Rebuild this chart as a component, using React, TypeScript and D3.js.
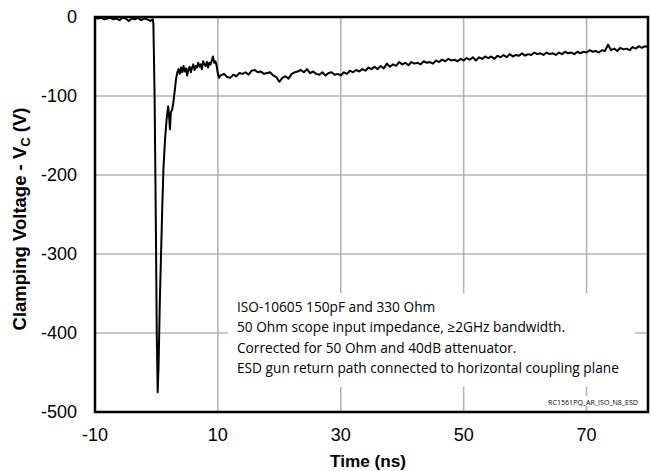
import React from "react";
import * as d3 from "d3";

const xTicks = [-10, 10, 30, 50, 70];
const xGrid = [10, 30, 50, 70];
const yTicks = [0, -100, -200, -300, -400, -500];
const yGrid = [-100, -200, -300, -400];

const noteLines = [
  "ISO-10605 150pF and 330 Ohm",
  "50 Ohm scope input impedance, \u22652GHz bandwidth.",
  "Corrected for 50 Ohm and 40dB attenuator.",
  "ESD gun return path connected to horizontal coupling plane",
];
const codeLabel = "RC1561PQ_AR_ISO_N8_ESD";

// Time (ns)
const timeNs = [
  -10, -9.5, -9, -8.5, -8, -7.5, -7, -6.5, -6, -5.5, -5, -4.5, -4, -3.5, -3, -2.5, -2, -1.5, -1, -0.6,
  -0.5, -0.3, -0.1, 0.05, 0.2, 0.35, 0.55, 0.75, 0.95, 1.15, 1.4, 1.65, 1.9, 2.05, 2.2, 2.35, 2.55, 2.75, 3.0, 3.2, 3.4,
  3.6, 3.8, 4.0, 4.2, 4.4, 4.6, 4.8, 5.0, 5.2, 5.4, 5.6, 5.8, 6.0, 6.2, 6.4, 6.6, 6.8, 7.0, 7.2, 7.4, 7.6, 7.8, 8.0,
  8.2, 8.4, 8.6, 8.8, 9.0, 9.2, 9.4, 9.6, 9.8, 10.0, 10.2, 10.4,
  10.5, 11, 11.5, 12, 12.5, 13, 13.5, 14, 14.5, 15, 15.5, 16, 16.5, 17, 17.5, 18, 18.5, 19, 19.5, 20,
  20.5, 21, 21.5, 22, 22.5, 23, 23.5, 24, 24.5, 25, 25.5, 26, 26.5, 27, 27.5, 28, 28.5, 29, 29.5, 30,
  30.5, 31, 31.5, 32, 32.5, 33, 33.5, 34, 34.5, 35, 35.5, 36, 36.5, 37, 37.5, 38, 38.5, 39, 39.5, 40,
  40.5, 41, 41.5, 42, 42.5, 43, 43.5, 44, 44.5, 45, 45.5, 46, 46.5, 47, 47.5, 48, 48.5, 49, 49.5, 50,
  50.5, 51, 51.5, 52, 52.5, 53, 53.5, 54, 54.5, 55, 55.5, 56, 56.5, 57, 57.5, 58, 58.5, 59, 59.5, 60,
  60.5, 61, 61.5, 62, 62.5, 63, 63.5, 64, 64.5, 65, 65.5, 66, 66.5, 67, 67.5, 68, 68.5, 69, 69.5, 70,
  70.5, 71, 71.5, 72, 72.5, 73, 73.5, 74, 74.5, 75, 75.5, 76, 76.5, 77, 77.5, 78, 78.5, 79, 79.5, 80,
];

// Clamping voltage (V)
const voltage = [
  -1, -2, -1, -3, -2, -1, -3, -2, -4, -1, -2, -5, -2, -3, -1, -4, -2, -3, -5, -3,
  -8, -100, -260, -400, -475, -440, -360, -300, -240, -190, -155, -130, -113, -125, -142, -120, -118, -108, -92, -78, -70,
  -66, -72, -64, -70, -62, -69, -65, -74, -66, -63, -70, -64, -60, -67, -62, -64, -58, -63, -60, -66, -56, -60, -62,
  -57, -64, -58, -60, -55, -50, -58, -56, -62, -72, -77, -74,
  -74, -72, -76, -77, -73, -75, -71, -72, -70, -73, -68, -67, -70, -69, -72, -71, -70, -74, -76, -82,
  -77, -75, -78, -72, -70, -69, -67, -70, -66, -71, -69, -72, -73, -70, -74, -71, -70, -73, -72, -74,
  -70, -72, -68, -70, -67, -69, -66, -68, -64, -66, -63, -66, -62, -65, -59, -63, -60, -62, -57, -60,
  -58, -61, -57, -59, -58, -60, -56, -58, -57, -59, -55, -57, -54, -56, -53, -55, -54, -56, -53, -55,
  -52, -54, -51, -55, -51, -53, -50, -52, -50, -53, -49, -51, -48, -51, -47, -50, -48, -49, -46, -49,
  -47, -48, -45, -47, -46, -48, -45, -47, -46, -48, -45, -47, -44, -46, -45, -47, -44, -46, -44, -45,
  -42, -44, -43, -45, -42, -43, -35, -42, -40, -43, -39, -41, -40, -42, -38, -40, -37, -39, -37, -38,
];

const W = 652;
const H = 471;
const left = 95;
const right = 648;
const top = 17;
const bottom = 412;

export default function App() {
  const x = d3.scaleLinear().domain([-10, 80]).range([left, right]);
  const y = d3.scaleLinear().domain([-500, 0]).range([bottom, top]);
  const pts: [number, number][] = timeNs.map((t, i) => [t, voltage[i]]);
  const line = d3
    .line<[number, number]>()
    .x((d) => x(d[0]))
    .y((d) => y(d[1]));

  const font = "'Liberation Sans', Arial, sans-serif";
  const noteFont = "'Open Sans', sans-serif";

  return (
    <svg
      width={W}
      height={H}
      viewBox={`0 0 ${W} ${H}`}
      style={{ position: "absolute", left: 0, top: 0, background: "#fff" }}
    >
      <rect x={0} y={0} width={W} height={H} fill="#fff" />
      {/* grid */}
      {xGrid.map((v) => (
        <line key={"gx" + v} x1={x(v)} x2={x(v)} y1={top} y2={bottom} stroke="#b3b3b3" strokeWidth={1.6} />
      ))}
      {yGrid.map((v) => (
        <line key={"gy" + v} x1={left} x2={right} y1={y(v)} y2={y(v)} stroke="#b3b3b3" strokeWidth={1.6} />
      ))}
      {/* annotation box */}
      <rect x={228} y={293} width={407} height={94} fill="#fff" />
      <rect x={544} y={396} width={96} height={10} fill="#fff" />
      {/* border */}
      <rect x={left} y={top} width={right - left} height={bottom - top} fill="none" stroke="#000" strokeWidth={2.5} />
      {/* data */}
      <path d={line(pts) || ""} fill="none" stroke="#000" strokeWidth={2} strokeLinejoin="round" />
      {/* notes */}
      {noteLines.map((s, i) => (
        <text key={"n" + i} x={237} y={312 + i * 20.4} fontFamily={noteFont} fontSize={13.7} fill="#000">
          {s}
        </text>
      ))}
      <text x={638} y={405} textAnchor="end" fontFamily={noteFont} fontSize={7.1} fill="#000">
        {codeLabel}
      </text>
      {/* y tick labels */}
      {yTicks.map((v) => (
        <text key={"yt" + v} x={77} y={y(v)} dy="0.35em" textAnchor="end" fontFamily={font} fontSize={18} fill="#000">
          {v}
        </text>
      ))}
      {/* x tick labels */}
      {xTicks.map((v) => (
        <text key={"xt" + v} x={x(v)} y={441} textAnchor="middle" fontFamily={font} fontSize={18} fill="#000">
          {v}
        </text>
      ))}
      {/* axis titles */}
      <text x={368} y={467} textAnchor="middle" fontFamily={font} fontSize={17.2} fontWeight="bold">
        Time (ns)
      </text>
      <text
        transform={`translate(26, 219) rotate(-90)`}
        textAnchor="middle"
        fontFamily={font}
        fontSize={18.5}
        fontWeight="bold"
      >
        Clamping Voltage - V<tspan fontSize={13} dy={4}>C</tspan>
        <tspan dy={-4}> (V)</tspan>
      </text>
    </svg>
  );
}
